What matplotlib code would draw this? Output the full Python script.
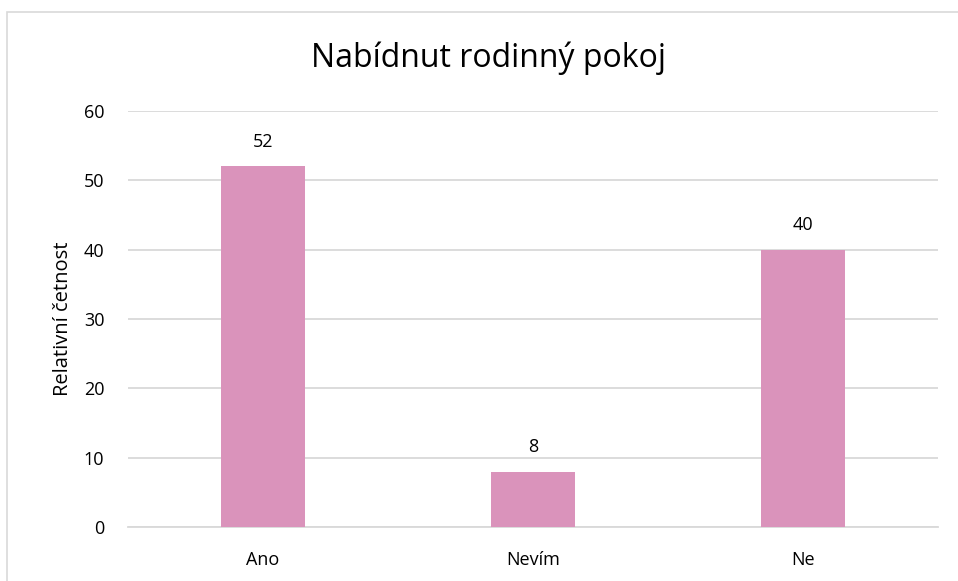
import matplotlib.pyplot as plt
from matplotlib.patches import Rectangle

# Nabídnut rodinný pokoj - relativní četnost odpovědí
kategorie = ["Ano", "Nevím", "Ne"]
hodnoty = [52, 8, 40]
y_ticks = [0, 10, 20, 30, 40, 50, 60]

plt.rcParams["font.family"] = ["Open Sans", "DejaVu Sans"]

fig = plt.figure(figsize=(9.58, 5.81), dpi=100)
ax = fig.add_axes([128 / 958, 1 - 527 / 581, 810 / 958, 416 / 581])

# rámeček grafu (jako ve Wordu/Excelu)
fig.patches.append(Rectangle((7 / 958, -0.1), 1.2, 1 - 12 / 581 + 0.1,
                             transform=fig.transFigure, fill=False,
                             edgecolor="#d9d9d9", linewidth=1.2))

x = range(len(kategorie))
ax.bar(x, hodnoty, width=0.31, color="#da93bb", zorder=3)
for xi, v in zip(x, hodnoty):
    ax.annotate(str(v), (xi, v), xytext=(0, 11), textcoords="offset points",
                ha="center", va="bottom", fontsize=13, color="#000000")

ax.set_xlim(-0.5, len(kategorie) - 0.5)
ax.set_ylim(0, 60)
ax.set_yticks(y_ticks)
ax.set_xticks(list(x))
ax.set_xticklabels(kategorie)
ax.yaxis.grid(True, color="#d9d9d9", linewidth=1.3, zorder=0)
ax.set_axisbelow(True)
for s in ["top", "right", "left"]:
    ax.spines[s].set_visible(False)
ax.spines["bottom"].set_color("#d9d9d9")
ax.spines["bottom"].set_linewidth(1.3)
ax.tick_params(axis="both", length=0, labelsize=13, colors="#000000")
ax.tick_params(axis="y", pad=17)
ax.tick_params(axis="x", pad=17)

ax.set_ylabel("Relativní četnost", fontsize=14.5, labelpad=8)
fig.text(0.51, 1 - 58 / 581, "Nabídnut rodinný pokoj", ha="center", va="center",
         fontsize=23, color="#000000")

fig.savefig("out.png", dpi=100, facecolor="white")
